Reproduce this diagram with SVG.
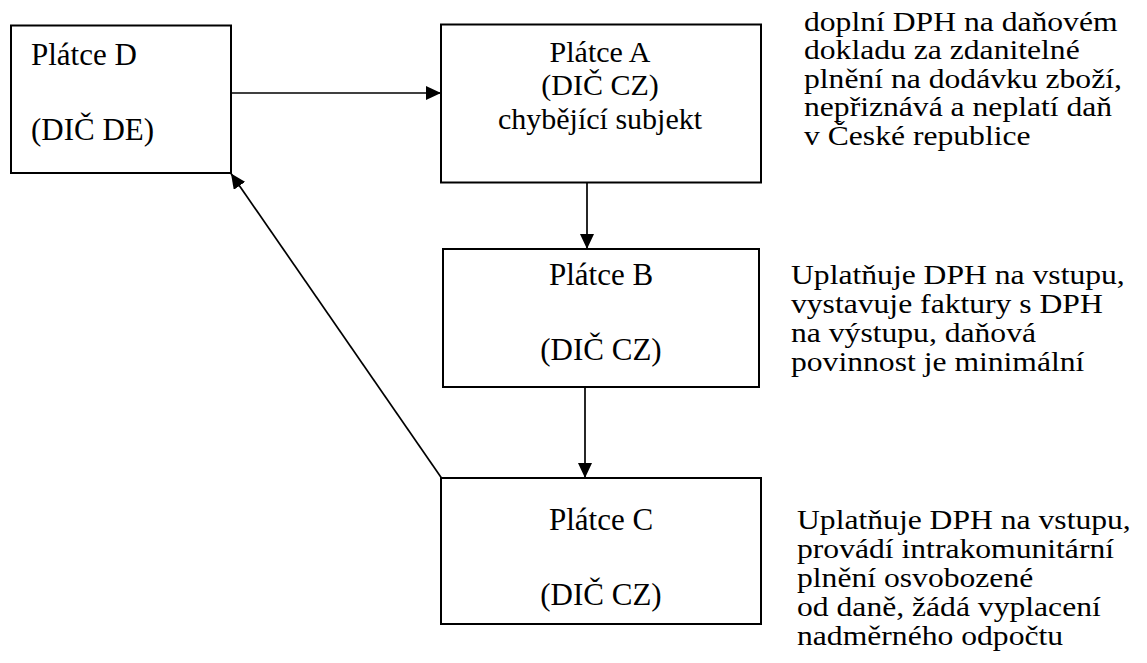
<svg xmlns="http://www.w3.org/2000/svg" width="1147" height="663" viewBox="0 0 1147 663">
  <style>
    .box { fill: #ffffff; stroke: #000000; stroke-width: 2; }
    .mid { text-anchor: middle; }
    .link { fill: none; stroke: #000000; stroke-width: 1.7; }
  </style>
  <defs>
    <marker id="arrow" markerUnits="userSpaceOnUse" markerWidth="16" markerHeight="14" refX="15" refY="7" orient="auto">
      <path d="M0,0 L15,7 L0,14 z" fill="#000000"/>
    </marker>
  </defs>
  <rect width="1147" height="663" fill="#ffffff"/>

  <g font-family="Liberation Serif, Times New Roman, serif" font-size="31" fill="#000000">
    <!-- Payer D (Germany) -->
    <g id="node-d">
      <rect class="box" x="11" y="25.5" width="220" height="147.5"/>
      <text x="31" y="65">Plátce D</text>
      <text x="31" y="140">(DIČ DE)</text>
    </g>

    <!-- Payer A: missing trader (three tight lines) -->
    <g id="node-a" font-size="30">
      <rect class="box" x="441" y="24.5" width="320" height="158"/>
      <text class="mid" x="600" y="62">Plátce A</text>
      <text class="mid" x="600" y="95">(DIČ CZ)</text>
      <text class="mid" x="600" y="129">chybějící subjekt</text>
    </g>

    <!-- Payer B -->
    <g id="node-b">
      <rect class="box" x="443" y="249" width="316" height="138"/>
      <text class="mid" x="601" y="285">Plátce B</text>
      <text class="mid" x="601" y="360">(DIČ CZ)</text>
    </g>

    <!-- Payer C -->
    <g id="node-c">
      <rect class="box" x="441" y="478" width="320" height="146"/>
      <text class="mid" x="601" y="530">Plátce C</text>
      <text class="mid" x="601" y="605">(DIČ CZ)</text>
    </g>
  </g>

  <!-- Side notes -->
  <g font-family="Liberation Serif, Times New Roman, serif" font-size="28" fill="#000000">
    <g id="note-a" transform="translate(804,0) scale(1.13,1)">
      <text x="0" y="31">doplní DPH na daňovém</text>
      <text x="0" y="59.5">dokladu za zdanitelné</text>
      <text x="0" y="88">plnění na dodávku zboží,</text>
      <text x="0" y="116.5">nepřiznává a neplatí daň</text>
      <text x="0" y="145">v České republice</text>
    </g>
    <g id="note-b" transform="translate(791,0) scale(1.13,1)">
      <text x="0" y="284">Uplatňuje DPH na vstupu,</text>
      <text x="0" y="313">vystavuje faktury s DPH</text>
      <text x="0" y="342">na výstupu, daňová</text>
      <text x="0" y="371">povinnost je minimální</text>
    </g>
    <g id="note-c" transform="translate(797,0) scale(1.13,1)">
      <text x="0" y="529">Uplatňuje DPH na vstupu,</text>
      <text x="0" y="558">provádí intrakomunitární</text>
      <text x="0" y="587">plnění osvobozené</text>
      <text x="0" y="616">od daně, žádá vyplacení</text>
      <text x="0" y="645">nadměrného odpočtu</text>
    </g>
  </g>

  <!-- Connectors -->
  <g id="connectors">
    <line class="link" x1="231" y1="93" x2="441" y2="93" marker-end="url(#arrow)"/>
    <line class="link" x1="587" y1="183" x2="587" y2="249" marker-end="url(#arrow)"/>
    <line class="link" x1="585" y1="387" x2="585" y2="478" marker-end="url(#arrow)"/>
    <line class="link" x1="441.5" y1="478" x2="231" y2="173.5" marker-end="url(#arrow)"/>
  </g>
</svg>
